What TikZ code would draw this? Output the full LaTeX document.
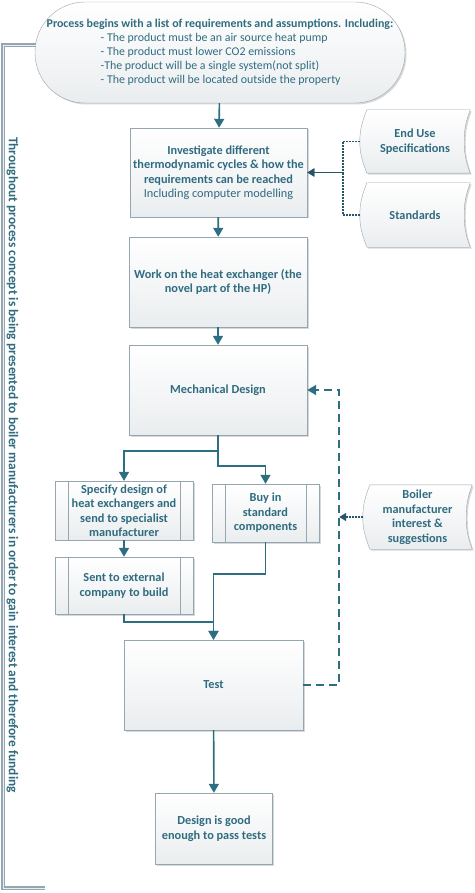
\documentclass[tikz,border=0pt]{standalone}
\usepackage{fontspec}
\setmainfont{Carlito}
\usetikzlibrary{calc}
\usetikzlibrary{positioning}
\usetikzlibrary{arrows.meta}
\usetikzlibrary{shadows}
\definecolor{flowteal}{RGB}{45,110,128}
\definecolor{boxedge}{RGB}{150,166,176}
\definecolor{labelteal}{RGB}{48,108,128}
\definecolor{dotteal}{RGB}{40,85,105}
\definecolor{boxgray}{RGB}{234,237,239}
\pgfdeclarelayer{background}
\pgfsetlayers{background,main}
\tikzstyle{stepnode} = [draw=boxedge, rectangle, top color=white, bottom color=boxgray, drop shadow={shadow xshift=1.5pt, shadow yshift=-1.5pt, fill=black!30}, text=labelteal, font=\fontsize{12.3}{14.5}\selectfont\bfseries, align=center]
\tikzstyle{subnode} = [stepnode, path picture={
    \draw[boxedge] ([xshift=13pt]path picture bounding box.north west) -- ([xshift=13pt]path picture bounding box.south west);
    \draw[boxedge] ([xshift=-13pt]path picture bounding box.north east) -- ([xshift=-13pt]path picture bounding box.south east);}]
\tikzstyle{startnode} = [stepnode, rounded corners=50pt, font=\fontsize{11.9}{14}\selectfont, align=left]
\tikzstyle{storednode} = [rectangle, text=labelteal, font=\fontsize{12.3}{14.5}\selectfont\bfseries, align=center]
\tikzstyle{storedline} = [draw=boxedge, top color=white, bottom color=boxgray, drop shadow={shadow xshift=1.5pt, shadow yshift=-1.5pt, fill=black!30}]
\tikzstyle{flowarrow} = [draw=flowteal, line width=1.6pt, -{Triangle[length=9pt,width=10pt]}, fill=none]
\tikzstyle{dasharrow} = [flowarrow, dash pattern=on 8pt off 5pt]
\tikzstyle{dotarrow} = [draw=dotteal, line width=1.5pt, dash pattern=on 2pt off 1pt, -{Triangle[length=7pt,width=8pt]}]
\tikzstyle{bracketline} = [draw=boxedge, line width=2pt, double=white!80!boxedge, double distance=0.6pt]

\begin{document}
\begin{tikzpicture}[x=1pt,y=1pt]
\useasboundingbox (0,0) rectangle (474,-893);
\node[startnode, minimum width=370pt, minimum height=101pt] (start) at (220,-52.5) {%
    {\bfseries Process begins with a list of requirements and assumptions. Including:}\\
    \hspace*{54pt}- The product must be an air source heat pump\\
    \hspace*{54pt}- The product must lower CO2 emissions\\
    \hspace*{54pt}-The product will be a single system(not split)\\
    \hspace*{54pt}- The product will be located outside the property};
\node[stepnode, minimum width=177pt, minimum height=89pt] (investigate) at ($(start)+(-1.5,-120)$) {%
    Investigate different\\ thermodynamic cycles \& how the\\ requirements can be reached\\
    {\mdseries Including computer modelling}};
\node[stepnode, minimum width=178pt, minimum height=90pt] (work) at ($(investigate)+(-0.5,-109.5)$) {Work on the heat exchanger (the\\ novel part of the HP)};
\node[stepnode, minimum width=178pt, minimum height=90pt] (mech) at ($(work)+(0,-108)$) {Mechanical Design};
\node[subnode, minimum width=138pt, minimum height=57pt] (specify) at ($(mech)+(-94,-120.5)$) {Specify design of\\ heat exchangers and\\ send to specialist\\ manufacturer};
\node[subnode, minimum width=138pt, minimum height=57pt] (sent) at ($(specify)+(0,-75)$) {Sent to external\\ company to build};
\node[subnode, minimum width=107pt, minimum height=58pt] (buy) at ($(mech)+(47.5,-123)$) {Buy in\\ standard\\ components};
\node[stepnode, minimum width=179pt, minimum height=90pt] (test) at ($(mech)+(-4.5,-295)$) {Test};
\node[stepnode, minimum width=117pt, minimum height=71pt] (design) at ($(test)+(0.5,-143.5)$) {Design is good\\ enough to pass tests};

% stored data sources on the right
\node[storednode, minimum width=110pt, minimum height=63pt] (enduse) at ($(investigate)+(196.5,31)$) {End Use\\ Specifications};
\node[storednode, minimum width=110pt, minimum height=64pt] (standards) at ($(enduse)+(0,-73.5)$) {Standards};
\node[storednode, minimum width=109pt, minimum height=64pt] (boiler) at ($(buy)+(152,-4)$) {Boiler\\ manufacturer\\ interest \&\\ suggestions};
\begin{pgfonlayer}{background}
\foreach \n in {enduse,standards,boiler}
    \path[storedline] ([xshift=7pt]\n.north west) to[out=-110,in=90] (\n.west) to[out=-90,in=110] ([xshift=7pt]\n.south west)
        -- (\n.south east) to[out=110,in=-90] ([xshift=-6pt]\n.east) to[out=90,in=-110] (\n.north east) -- cycle;
\end{pgfonlayer}

% main flow
\draw[flowarrow] (start) -- (investigate);
\draw[flowarrow] (investigate) -- (work);
\draw[flowarrow] (work) -- (mech);
\draw[flowarrow] (mech.south) -- ++(0,-16) -| (specify.north);
\draw[flowarrow] (mech.south) -- ++(0,-31) -| (buy.north);
\draw[flowarrow] (specify) -- (sent);
\draw[flowarrow] (buy.south) -- ++(0,-32) -| (test.north);
\draw[flowarrow] (sent.south) -- ++(0,-8) -| (test.north);
\draw[flowarrow] (test) -- (design);

% feedback and inputs
\coordinate (feedback) at ($(test.east)+(36,0)$);
\draw[dasharrow] (test.east) -- (feedback) |- (mech.east);
\draw[dotarrow] (boiler.west) -- (boiler.west -| feedback);
\draw[dotarrow] (enduse.west) -- ++(-17,0) |- (investigate.east);
\draw[dotarrow] (standards.west) -- ++(-17,0) |- (investigate.east);

% bracket along the left side
\coordinate (brackettop) at ($(start.west)+(1,7.5)$);
\draw[bracketline] (brackettop) -- ++(-33,0) -- ++(0,-843) -- ++(42,0);
\node[rotate=-90, text=labelteal, font=\fontsize{13.4}{16}\selectfont\bfseries] (funding) at (12.5,-465) {Throughout process concept is being presented to boiler manufacturers in order to gain interest and therefore funding};
\end{tikzpicture}
\end{document}
